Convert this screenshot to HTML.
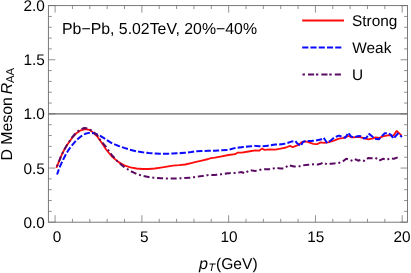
<!DOCTYPE html>
<html><head><meta charset="utf-8"><title>D Meson RAA</title>
<style>
html,body{margin:0;padding:0;background:#fff;}
body{width:411px;height:273px;overflow:hidden;}
svg{display:block;will-change:transform;}
text{font-family:"Liberation Sans",sans-serif;font-size:15.4px;fill:#000;text-rendering:geometricPrecision;}
</style></head>
<body>
<svg width="411" height="273" viewBox="0 0 411 273">
<rect width="411" height="273" fill="#fff"/>
<!-- gridline at 1.0 -->
<line x1="48.4" x2="407.5" y1="113.90" y2="113.90" stroke="#666" stroke-width="1.4"/>
<!-- curves -->
<g fill="none" stroke-width="2" stroke-linejoin="round">
<path d="M56.4,167.8 L58.8,161.8 L61.0,156.3 L64.3,149.7 L67.6,144.2 L72.0,138.0 L76.4,133.2 L80.8,130.3 L85.2,129.2 L89.6,129.9 L91.8,131.4 L97.3,136.5 L102.7,144.2 L106.1,149.5 L112.2,156.8 L118.2,161.9 L124.3,165.4 L130.4,167.3 L136.5,168.5 L142.6,169.0 L148.7,169.0 L154.7,168.5 L160.8,167.6 L166.9,166.6 L173.0,165.6 L179.0,165.2 L185.2,164.5 L191.2,163.1 L195.0,162.2 L201.7,160.6 L208.4,159.0 L211.0,158.1 L215.0,157.7 L221.8,156.3 L228.5,155.0 L235.1,154.2 L237.8,152.6 L241.8,152.6 L248.5,151.5 L255.2,150.4 L259.2,150.7 L261.9,148.6 L264.6,149.9 L270.0,149.4 L275.3,149.6 L280.7,148.6 L286.0,147.5 L290.0,145.9 L292.7,147.2 L296.7,145.6 L298.7,144.6 L302.3,141.8 L306.0,141.5 L309.6,142.6 L313.3,143.8 L317.0,144.2 L320.6,142.4 L324.3,142.9 L327.9,142.4 L331.6,141.5 L335.2,140.2 L338.9,138.7 L342.6,138.2 L346.2,136.9 L348.6,136.0 L351.7,137.3 L353.7,137.3 L357.3,136.9 L361.0,137.4 L364.6,138.4 L368.3,139.3 L372.0,138.7 L375.6,137.4 L379.3,137.8 L382.9,136.3 L386.6,135.6 L389.3,135.1 L392.1,136.0 L393.9,135.1 L396.6,130.9 L398.5,132.7 L401.6,135.6" stroke="#ff0d0d" stroke-width="1.8" stroke-linecap="butt"/>
<path d="M57.4,173.6 L59.2,168.4 L62.1,161.8 L65.4,155.2 L68.7,149.7 L72.0,145.3 L76.4,140.2 L80.8,136.5 L85.2,133.8 L89.6,132.7 L94.0,133.2 L99.5,135.4 L105.0,138.7 L106.1,139.7 L112.2,143.4 L118.2,145.8 L124.3,147.9 L130.4,149.8 L136.5,151.3 L142.6,152.3 L148.7,153.0 L154.7,153.5 L160.8,153.7 L166.9,153.7 L173.0,153.5 L179.0,153.2 L185.2,152.8 L191.2,152.0 L195.0,151.4 L201.7,151.0 L208.4,150.8 L215.0,150.7 L221.8,150.2 L228.5,149.9 L235.1,148.0 L241.8,147.2 L248.5,146.4 L255.2,145.9 L261.9,146.4 L268.6,145.6 L275.3,144.5 L282.0,144.3 L287.3,143.2 L291.4,141.6 L295.4,141.1 L296.8,142.9 L300.5,146.0 L303.2,141.8 L306.0,140.9 L311.5,140.9 L316.0,140.4 L320.6,139.6 L323.7,137.8 L327.0,142.9 L330.7,140.5 L334.3,137.4 L338.9,135.6 L342.6,136.9 L345.3,137.8 L348.4,132.7 L350.8,136.3 L353.7,137.4 L357.3,136.3 L360.0,136.0 L363.7,138.4 L366.5,137.8 L368.8,133.6 L372.0,136.3 L374.7,138.7 L378.9,139.3 L381.1,136.9 L384.8,133.2 L388.4,133.2 L391.2,135.1 L393.5,138.7 L395.7,136.0 L397.9,133.6 L401.2,136.3" stroke="#0a0aff" stroke-dasharray="4.2 4.15" stroke-dashoffset="0.8" stroke-linecap="square"/>
<path d="M56.4,167.8 L58.8,161.8 L61.0,156.2 L64.3,149.5 L67.6,143.9 L72.0,137.5 L76.4,132.4 L80.8,129.2 L84.2,128.0 L87.5,128.4 L91.8,130.6 L97.3,135.2 L100.0,139.7 L106.1,147.0 L112.2,155.5 L118.2,162.1 L124.3,167.1 L130.4,171.0 L136.5,173.9 L142.6,175.9 L148.7,177.1 L154.7,177.8 L160.8,178.3 L166.9,178.5 L173.0,178.5 L179.0,178.3 L185.2,178.0 L191.2,177.6 L195.0,177.0 L201.7,176.1 L208.4,175.0 L215.0,175.0 L221.8,174.2 L228.5,173.2 L235.1,172.9 L241.8,172.1 L244.5,173.4 L249.9,170.2 L255.2,171.0 L260.6,169.7 L265.9,169.2 L271.3,169.4 L275.3,167.8 L280.7,168.6 L284.7,168.1 L288.7,165.1 L294.0,166.5 L299.6,166.2 L304.1,165.2 L308.7,164.7 L313.3,164.3 L317.9,164.5 L320.6,163.8 L323.4,162.5 L327.0,164.3 L330.7,163.8 L334.3,163.4 L338.9,162.9 L342.6,161.6 L346.2,158.8 L349.9,159.8 L352.7,161.0 L355.5,159.4 L358.2,160.7 L361.0,159.8 L364.6,161.0 L368.3,157.9 L372.0,158.3 L375.6,157.9 L379.3,160.7 L382.9,158.8 L386.6,159.8 L390.2,158.3 L393.9,158.8 L397.6,157.4 L400.9,156.1" stroke="#5a0a62" stroke-dasharray="0.01 4.8 4.0 4.8" stroke-dashoffset="-2.5" stroke-linecap="square"/>
</g>
<!-- frame -->
<rect x="48.4" y="5.6" width="359.10" height="216.60" fill="none" stroke="#6e6e6e" stroke-width="0.92"/>
<path d="M55.10,222.2 v-7.0 M55.10,5.6 v7.0 M72.45,222.2 v-3.4 M72.45,5.6 v3.4 M89.81,222.2 v-3.4 M89.81,5.6 v3.4 M107.16,222.2 v-3.4 M107.16,5.6 v3.4 M124.52,222.2 v-3.4 M124.52,5.6 v3.4 M141.88,222.2 v-7.0 M141.88,5.6 v7.0 M159.23,222.2 v-3.4 M159.23,5.6 v3.4 M176.59,222.2 v-3.4 M176.59,5.6 v3.4 M193.94,222.2 v-3.4 M193.94,5.6 v3.4 M211.29,222.2 v-3.4 M211.29,5.6 v3.4 M228.65,222.2 v-7.0 M228.65,5.6 v7.0 M246.00,222.2 v-3.4 M246.00,5.6 v3.4 M263.36,222.2 v-3.4 M263.36,5.6 v3.4 M280.72,222.2 v-3.4 M280.72,5.6 v3.4 M298.07,222.2 v-3.4 M298.07,5.6 v3.4 M315.43,222.2 v-7.0 M315.43,5.6 v7.0 M332.78,222.2 v-3.4 M332.78,5.6 v3.4 M350.14,222.2 v-3.4 M350.14,5.6 v3.4 M367.49,222.2 v-3.4 M367.49,5.6 v3.4 M384.85,222.2 v-3.4 M384.85,5.6 v3.4 M402.20,222.2 v-7.0 M402.20,5.6 v7.0 M48.4,222.20 h7.0 M407.5,222.20 h-7.0 M48.4,211.37 h3.4 M407.5,211.37 h-3.4 M48.4,200.54 h3.4 M407.5,200.54 h-3.4 M48.4,189.71 h3.4 M407.5,189.71 h-3.4 M48.4,178.88 h3.4 M407.5,178.88 h-3.4 M48.4,168.05 h7.0 M407.5,168.05 h-7.0 M48.4,157.22 h3.4 M407.5,157.22 h-3.4 M48.4,146.39 h3.4 M407.5,146.39 h-3.4 M48.4,135.56 h3.4 M407.5,135.56 h-3.4 M48.4,124.73 h3.4 M407.5,124.73 h-3.4 M48.4,113.90 h7.0 M407.5,113.90 h-7.0 M48.4,103.07 h3.4 M407.5,103.07 h-3.4 M48.4,92.24 h3.4 M407.5,92.24 h-3.4 M48.4,81.41 h3.4 M407.5,81.41 h-3.4 M48.4,70.58 h3.4 M407.5,70.58 h-3.4 M48.4,59.75 h7.0 M407.5,59.75 h-7.0 M48.4,48.92 h3.4 M407.5,48.92 h-3.4 M48.4,38.09 h3.4 M407.5,38.09 h-3.4 M48.4,27.26 h3.4 M407.5,27.26 h-3.4 M48.4,16.43 h3.4 M407.5,16.43 h-3.4 M48.4,5.60 h7.0 M407.5,5.60 h-7.0" stroke="#6e6e6e" stroke-width="0.75" fill="none"/>
<!-- tick labels -->
<text x="44.9" y="227.75" text-anchor="end">0.0</text>
<text x="44.9" y="173.60" text-anchor="end">0.5</text>
<text x="44.9" y="119.45" text-anchor="end">1.0</text>
<text x="44.9" y="65.30" text-anchor="end">1.5</text>
<text x="44.9" y="11.15" text-anchor="end">2.0</text>
<text x="57.0" y="241.6" text-anchor="middle">0</text>
<text x="144.3" y="241.6" text-anchor="middle">5</text>
<text x="229.1" y="241.6" text-anchor="middle">10</text>
<text x="315.8" y="241.6" text-anchor="middle">15</text>
<text x="402.0" y="241.6" text-anchor="middle">20</text>

<!-- annotation -->
<text x="62.0" y="33.5" style="font-size:15.85px">Pb−Pb, 5.02TeV, 20%−40%</text>
<!-- legend -->
<g fill="none" stroke-width="2">
<line x1="302.2" x2="344" y1="20.4" y2="20.4" stroke="#ff0d0d"/>
<line x1="303.2" x2="342" y1="47.4" y2="47.4" stroke="#0a0aff" stroke-dasharray="4.15 4.1" stroke-linecap="square"/>
<line x1="303.5" x2="341" y1="74.5" y2="74.5" stroke="#5a0a62" stroke-dasharray="0.4 5.1 4.1 3.8" stroke-linecap="square"/>
</g>
<text x="352.0" y="25.8">Strong</text>
<text x="352.3" y="52.6">Weak</text>
<text x="352.0" y="79.6">U</text>
<!-- axis labels -->
<text x="198.9" y="268.6" style="font-size:16.2px;font-style:italic">p</text>
<text x="208.6" y="270.9" style="font-size:10.8px;font-style:italic">T</text>
<text x="216.0" y="268.6" style="font-size:15.6px">(GeV)</text>
<text transform="translate(11.6,160.6) rotate(-90)" style="font-size:15.85px">D Meson</text>
<text transform="translate(11.7,94.2) rotate(-90)" style="font-size:15.9px;font-style:italic">R</text>
<text transform="translate(14.1,83.0) rotate(-90)" style="font-size:11.3px">AA</text>
</svg>
</body></html>
